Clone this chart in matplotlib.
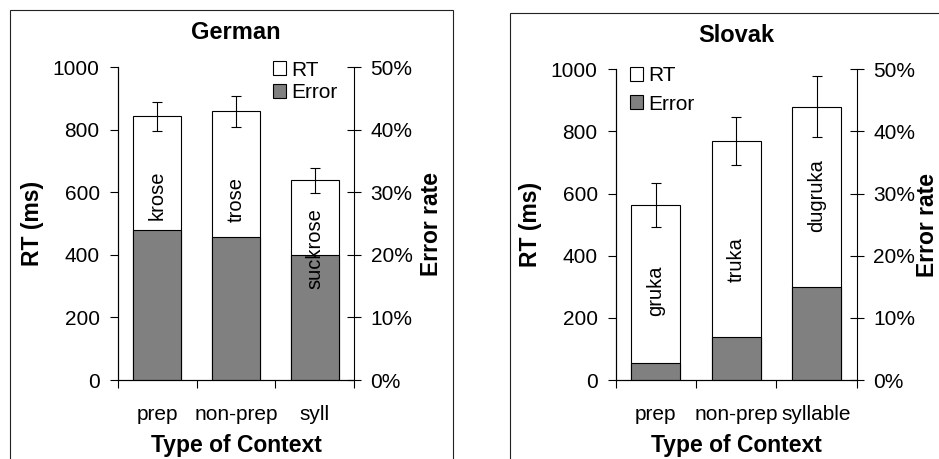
import matplotlib
matplotlib.use("Agg")
import matplotlib.pyplot as plt
from matplotlib.patches import Rectangle, Patch
from matplotlib.ticker import PercentFormatter

plt.rcParams["font.family"] = ["Liberation Sans", "DejaVu Sans"]

# German panel
de_contexts = ["prep", "non-prep", "syll"]
de_rt = [842, 858, 638]
de_rt_err = [46, 49, 40]
de_error = [0.239, 0.229, 0.199]
de_words = ["krose", "trose", "suckrose"]
de_word_y = [590, 578, 420]

# Slovak panel
sk_contexts = ["prep", "non-prep", "syllable"]
sk_rt = [563, 770, 880]
sk_rt_err = [70, 77, 98]
sk_error = [0.028, 0.070, 0.149]
sk_words = ["gruka", "truka", "dugruka"]
sk_word_y = [287, 389, 593]

W, H = 939, 459
GRAY = "#808080"


def fig_rect(left, top, right, bottom):
    # pixel box (from top-left) -> figure fraction [l, b, w, h]
    return [left / W, 1 - bottom / H, (right - left) / W, (bottom - top) / H]


def draw_panel(fig, rect, title, contexts, rt, rt_err, error, words, word_y,
               legend_anchor, legend_spacing, right_pad):
    ax = fig.add_axes(rect)
    ax2 = ax.twinx()
    x = list(range(len(contexts)))

    ax.bar(x, rt, width=0.61, color="white", edgecolor="black",
           linewidth=0.8, zorder=2)
    ax.errorbar(x, rt, yerr=rt_err, fmt="none", ecolor="black",
                elinewidth=0.8, capsize=3.5, capthick=0.8, zorder=3)
    ax2.bar(x, error, width=0.61, color=GRAY, edgecolor="black",
            linewidth=0.8, zorder=2)
    for xi, w, wy in zip(x, words, word_y):
        ax2.text(xi, wy, w, transform=ax.transData, rotation=90,
                 ha="center", va="center", fontsize=14.5, zorder=5)

    ax.set_xlim(-0.5, len(contexts) - 0.5)
    ax.set_ylim(0, 1000)
    ax.set_yticks(range(0, 1001, 200))
    ax2.set_ylim(0, 0.5)
    ax2.set_yticks([0, 0.1, 0.2, 0.3, 0.4, 0.5])
    ax2.yaxis.set_major_formatter(PercentFormatter(1.0, decimals=0))

    ax.set_xticks(x)
    ax.set_xticklabels(contexts)
    ax.set_xticks([i - 0.5 for i in range(len(contexts) + 1)], minor=True)
    ax.tick_params(axis="x", which="major", length=0, pad=18, labelsize=15)
    ax.tick_params(axis="x", which="minor", length=5.8, width=0.8,
                   direction="out")
    ax.tick_params(axis="y", length=5.5, width=0.8, direction="out",
                   pad=7.5, labelsize=15)
    ax2.tick_params(axis="y", length=9.5, width=0.8, direction="inout",
                    pad=7, labelsize=15)

    for a in (ax, ax2):
        a.spines["top"].set_visible(False)
        for s in a.spines.values():
            s.set_linewidth(0.8)
    ax.spines["right"].set_visible(False)

    ax.set_title(title, fontsize=17, fontweight="bold", pad=20)
    ax.set_ylabel("RT (ms)", fontsize=16.5, fontweight="bold", labelpad=6)
    ax2.set_ylabel("Error rate", fontsize=16.5, fontweight="bold",
                   labelpad=right_pad)
    ax.set_xlabel("Type of Context", fontsize=16.5, fontweight="bold",
                  labelpad=7)

    handles = [Patch(facecolor="white", edgecolor="black", linewidth=0.8),
               Patch(facecolor=GRAY, edgecolor="black", linewidth=0.8)]
    ax2.legend(handles, ["RT", "Error"], loc="upper left",
               bbox_to_anchor=legend_anchor, frameon=False, fontsize=15,
               handlelength=0.65, handleheight=0.65, handletextpad=0.25,
               labelspacing=legend_spacing, borderpad=0, borderaxespad=0)
    return ax, ax2


def main() -> None:
    fig = plt.figure(figsize=(W / 100, H / 100), dpi=100)

    # panel frames
    fig.patches.append(Rectangle((10 / W, -0.1), (453 - 10) / W,
                                 1.1 - 10 / H, transform=fig.transFigure,
                                 fill=False, edgecolor="#222222",
                                 linewidth=0.8))
    fig.patches.append(Rectangle((510 / W, -0.1), 0.6, 1.1 - 12.7 / H,
                                 transform=fig.transFigure, fill=False,
                                 edgecolor="#222222", linewidth=0.8))

    draw_panel(fig, fig_rect(117.7, 67, 354.3, 380), "German",
               de_contexts, de_rt, de_rt_err, de_error, de_words, de_word_y,
               (0.656, 1.02), 0.15, 5)
    draw_panel(fig, fig_rect(615.7, 69.3, 856.7, 380), "Slovak",
               sk_contexts, sk_rt, sk_rt_err, sk_error, sk_words, sk_word_y,
               (0.059, 1.01), 0.45, 0.5)

    fig.savefig("out.png", dpi=100)


if __name__ == "__main__":
    main()
